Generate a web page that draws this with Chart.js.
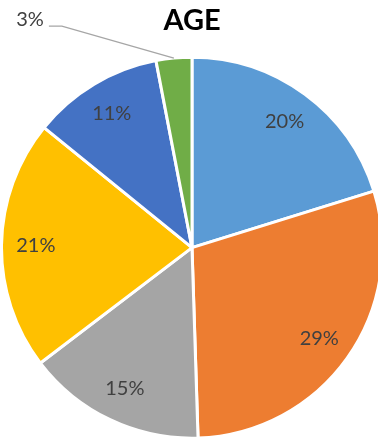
<!DOCTYPE html>
<html>
<head>
<meta charset="utf-8">
<script src="https://cdn.jsdelivr.net/npm/chart.js@4.4.1/dist/chart.umd.min.js"></script>
<style>
  html, body { margin: 0; padding: 0; background: #fff; overflow: hidden; }
  #wrap { width: 384px; height: 442px; }
</style>
</head>
<body>
<div id="wrap"><canvas id="ageChart"></canvas></div>
<script>
// age groups, clockwise from 12 o'clock
const groups = ['A', 'B', 'C', 'D', 'E', 'F'];
const shares = [20, 29, 15, 21, 11, 3];
const sliceColors = ['#5B9BD5', '#ED7D31', '#A5A5A5', '#FFC000', '#4472C4', '#70AD47'];

// percent labels inside the slices, the small one pulled out with a leader line
const pctLabels = {
    id: 'pctLabels',
    afterDatasetsDraw(chart) {
        const ctx = chart.ctx;
        const arcs = chart.getDatasetMeta(0).data;
        ctx.save();
        ctx.font = '20px Lato';
        ctx.fillStyle = '#404040';
        ctx.textBaseline = 'middle';
        arcs.forEach((arc, i) => {
            const { x, y, startAngle, endAngle, outerRadius } = arc.getProps(['x', 'y', 'startAngle', 'endAngle', 'outerRadius'], true);
            const mid = (startAngle + endAngle) / 2;
            const txt = shares[i] + '%';
            if (shares[i] < 5) {
                const ex = x + Math.cos(mid) * outerRadius;
                const ey = y + Math.sin(mid) * outerRadius;
                ctx.strokeStyle = '#A6A6A6';
                ctx.lineWidth = 1.3;
                ctx.beginPath();
                ctx.moveTo(ex, ey);
                ctx.lineTo(ex - 112, ey - 32);
                ctx.lineTo(ex - 125, ey - 32);
                ctx.stroke();
                ctx.textAlign = 'right';
                ctx.fillText(txt, ex - 130, ey - 38);
            } else {
                const r = outerRadius * 0.82;
                ctx.textAlign = 'center';
                ctx.fillText(txt, x + Math.cos(mid) * r, y + Math.sin(mid) * r);
            }
        });
        ctx.restore();
    }
};

new Chart(document.getElementById('ageChart'), {
    type: 'pie',
    data: {
        labels: groups,
        datasets: [{
            data: shares,
            backgroundColor: sliceColors,
            borderColor: '#ffffff',
            borderWidth: 3
        }]
    },
    options: {
        responsive: true,
        maintainAspectRatio: false,
        animation: false,
        layout: { padding: 0 },
        plugins: {
            legend: { display: false },
            tooltip: { enabled: false },
            title: {
                display: true,
                text: 'AGE',
                color: '#000000',
                font: { family: 'Lato', size: 29, weight: 'bold', lineHeight: 1.15 },
                padding: { top: 4, bottom: 16 }
            }
        }
    },
    plugins: [pctLabels]
});
</script>
</body>
</html>
